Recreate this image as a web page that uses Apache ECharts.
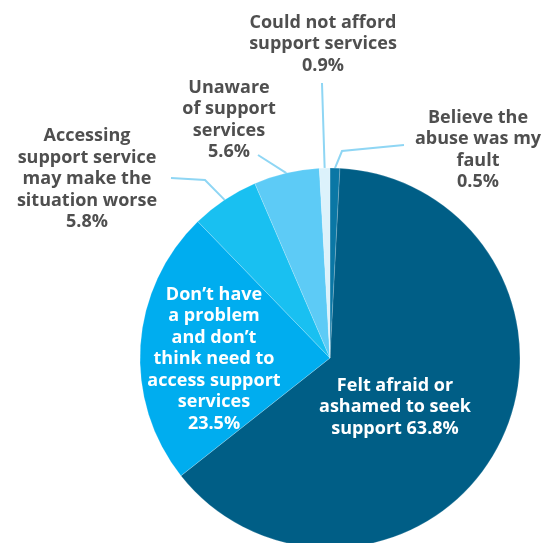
<!DOCTYPE html>
<html>
<head>
<meta charset="utf-8">
<script src="https://cdn.jsdelivr.net/npm/echarts@6/dist/echarts.min.js"></script>
<style>
html,body{margin:0;padding:0;background:#fff;}
#chart{width:545px;height:543px;}
</style>
</head>
<body>
<div id="chart"></div>
<script>
// Data (clockwise from 12 o'clock)
const categories = [
  'Believe the\nabuse was my\nfault',
  'Felt afraid or\nashamed to seek\nsupport',
  'Don\u2019t have\na problem\nand don\u2019t\nthink need to\naccess support\nservices',
  'Accessing\nsupport service\nmay make the\nsituation worse',
  'Unaware\nof support\nservices',
  'Could not afford\nsupport services'
];
const values = [0.5, 63.8, 23.5, 5.8, 5.6, 0.9];
const valueSeparators = ['\n', ' ', '\n', '\n', '\n', '\n'];
const colors = ['#0a77a5', '#005e86', '#00adef', '#19c0f1', '#5dcbf6', '#dcf2fb'];
const insideLabel = [false, true, true, false, false, false];

// Label layout (positions of the text blocks and leader-line elbows)
const labelPos = [
  {x: 478, y: 150, elbow: [[342, 151], [404, 145]]},
  {x: 395, y: 407, elbow: null},
  {x: 214, y: 359, elbow: null},
  {x: 87,  y: 179, elbow: [[205, 180], [171, 178]]},
  {x: 229, y: 120, elbow: [[258, 155]]},
  {x: 323, y: 44,  elbow: [[322, 83]]}
];

const chart = echarts.init(document.getElementById('chart'), null, {renderer: 'canvas'});

const data = categories.map((name, i) => ({
  name: name,
  value: values[i],
  itemStyle: {color: colors[i]},
  label: {
    position: insideLabel[i] ? 'inside' : 'outside',
    color: insideLabel[i] ? '#ffffff' : '#4f4f4f'
  },
  labelLine: {show: !insideLabel[i]}
}));

chart.setOption({
  animation: false,
  series: [{
    type: 'pie',
    center: [330, 358],
    radius: 190,
    startAngle: 90,
    clockwise: true,
    minAngle: 3,
    avoidLabelOverlap: false,
    itemStyle: {borderColor: 'rgba(255,255,255,0.3)', borderWidth: 0.6},
    label: {
      show: true,
      fontFamily: 'Open Sans',
      fontWeight: 'bold',
      fontSize: 18,
      lineHeight: 21.5,
      align: 'center',
      formatter: function (p) {
        return p.name + valueSeparators[p.dataIndex] + values[p.dataIndex].toFixed(1) + '%';
      }
    },
    labelLine: {
      lineStyle: {color: '#8fd6f4', width: 2},
      length: 10,
      length2: 10
    },
    labelLayout: function (p) {
      const L = labelPos[p.dataIndex];
      const out = {x: L.x, y: L.y, align: 'center', verticalAlign: 'middle'};
      if (L.elbow && p.labelLinePoints) {
        out.labelLinePoints = [p.labelLinePoints[0]].concat(L.elbow);
      }
      return out;
    },
    data: data
  }]
});
</script>
</body>
</html>
